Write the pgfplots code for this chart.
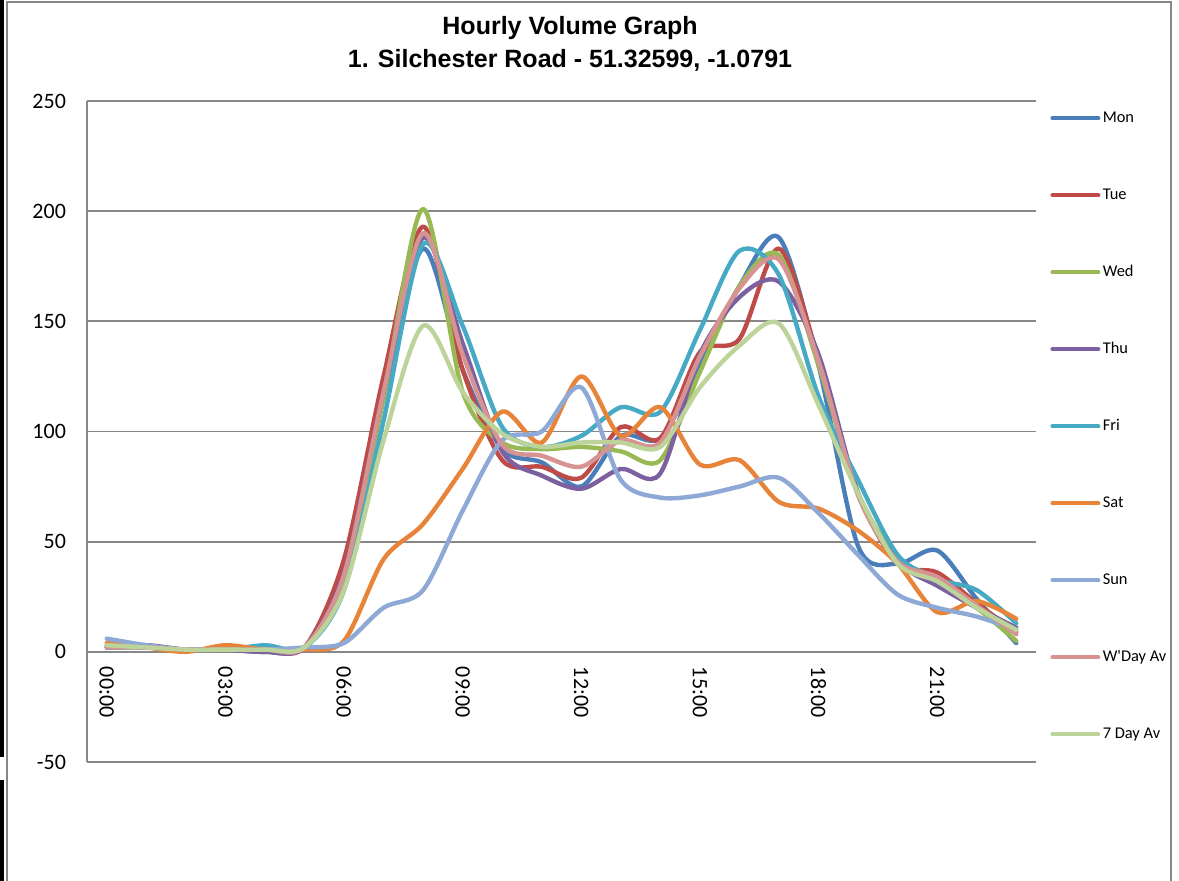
\documentclass[border=0pt]{standalone}
\usepackage{pgfplots}
\usepackage{pgfplotstable}
\pgfplotsset{compat=1.18}
\usepackage{fontspec}
\setmainfont{Carlito}
\newfontfamily\arialfont{Liberation Sans}

\definecolor{cMon}{HTML}{4A7EBB}
\definecolor{cTue}{HTML}{BE4B48}
\definecolor{cWed}{HTML}{98B954}
\definecolor{cThu}{HTML}{7D60A0}
\definecolor{cFri}{HTML}{46AAC5}
\definecolor{cSat}{HTML}{E8843A}
\definecolor{cSun}{HTML}{8EA9D5}
\definecolor{cWDay}{HTML}{D69392}
\definecolor{cSeven}{HTML}{BCD39A}
\definecolor{gridgray}{HTML}{878787}

\pgfplotstableread{
h Mon Tue Wed Thu Fri Sat Sun WDay Seven
0 2 3 2 2 2 4 6 2 3
1 2 2 2 3 2 2 3 2 2
2 1 1 1 1 1 0 1 1 1
3 1 1 1 1 1 3 1 1 1
4 0 1 2 0 3 1 1 1 1
5 2 2 2 2 2 1 2 2 2
6 35 42 33 36 28 5 4 35 28
7 115 125 115 118 105 42 20 118 96
8 183 193 201 188 185 58 28 190 148
9 128 128 118 140 148 83 64 135 118
10 92 87 95 91 102 109 96 94 99
11 86 84 92 80 93 95 100 89 93
12 75 79 93 74 98 125 120 84 95
13 98 102 91 83 111 98 78 96 95
14 97 97 87 81 109 111 70 95 93
15 130 136 127 135 146 85 71 134 120
16 166 142 166 161 182 87 75 165 139
17 188 183 180 168 171 68 79 178 149
18 130 133 130 135 116 65 63 132 112
19 48 72 72 72 78 55 44 71 72
20 40 40 43 41 44 40 26 41 40
21 46 36 33 30 33 18 20 34 32
22 24 22 20 20 28 23 16 21 20
23 4 9 5 11 13 15 10 8 10
}\data

\begin{document}
\begin{tikzpicture}
\path[use as bounding box] (0,0) rectangle (589.5pt,440.5pt);
\fill[black] (0,440.5pt) rectangle (2pt,62pt);
\fill[black] (0,0) rectangle (2pt,50.5pt);
\draw[gridgray, line width=0.9pt] (3.3pt,-1pt) -- (3.3pt,439.3pt) -- (585.6pt,439.3pt) -- (585.6pt,-1pt);
\node[font=\arialfont\bfseries\fontsize{12.5}{16.5}\selectfont, align=center] at (285pt,418.5pt) {Hourly Volume Graph\\1. Silchester Road - 51.32599, -1.0791};
\begin{axis}[
  at={(43.5pt,59.5pt)}, anchor=south west,
  scale only axis, width=474.5pt, height=330.5pt,
  xmin=-0.5, xmax=23.5, ymin=-50, ymax=250,
  axis x line=middle, axis y line=left,
  axis line style={-, gridgray, line width=0.9pt},
  hide obscured y ticks=false, hide obscured x ticks=false,
  ytick={-50,0,50,100,150,200,250},
  xtick={0,3,6,9,12,15,18,21},
  xticklabels={00:00,03:00,06:00,09:00,12:00,15:00,18:00,21:00},
  ymajorgrids, grid style={gridgray, line width=0.9pt},
  major tick length=0pt,
  xticklabel style={rotate=-90, anchor=west, font=\fontsize{11}{13}\selectfont, xshift=0pt},
  xticklabel shift=4pt,
  yticklabel style={font=\fontsize{11}{13}\selectfont, xshift=-7pt},
  /pgf/number format/assume math mode=true,
  clip=false,
  every axis plot/.append style={line width=2.2pt, smooth, tension=0.5, line cap=round, line join=round},
  legend image code/.code={\draw[#1, line width=2pt, line cap=round] (0pt,0pt) -- (23pt,0pt);},
  legend style={at={(1,1)}, anchor=north west, xshift=7pt, yshift=-4.5pt, draw=none, fill=none, inner sep=0pt,
    font=\fontsize{8.2}{9.8}\selectfont, row sep=30.5pt,
    nodes={text height=6pt, text depth=2pt, inner ysep=0pt, inner xsep=1.2pt}},
  legend cell align=left,
]
\addplot[cMon] table[x=h,y=Mon] {\data};
\addlegendentry{Mon}
\addplot[cTue] table[x=h,y=Tue] {\data};
\addlegendentry{Tue}
\addplot[cWed] table[x=h,y=Wed] {\data};
\addlegendentry{Wed}
\addplot[cThu] table[x=h,y=Thu] {\data};
\addlegendentry{Thu}
\addplot[cFri] table[x=h,y=Fri] {\data};
\addlegendentry{Fri}
\addplot[cSat] table[x=h,y=Sat] {\data};
\addlegendentry{Sat}
\addplot[cSun] table[x=h,y=Sun] {\data};
\addlegendentry{Sun}
\addplot[cWDay] table[x=h,y=WDay] {\data};
\addlegendentry{W\textquotesingle Day Av}
\addplot[cSeven] table[x=h,y=Seven] {\data};
\addlegendentry{7 Day Av}
\end{axis}
\end{tikzpicture}
\end{document}
